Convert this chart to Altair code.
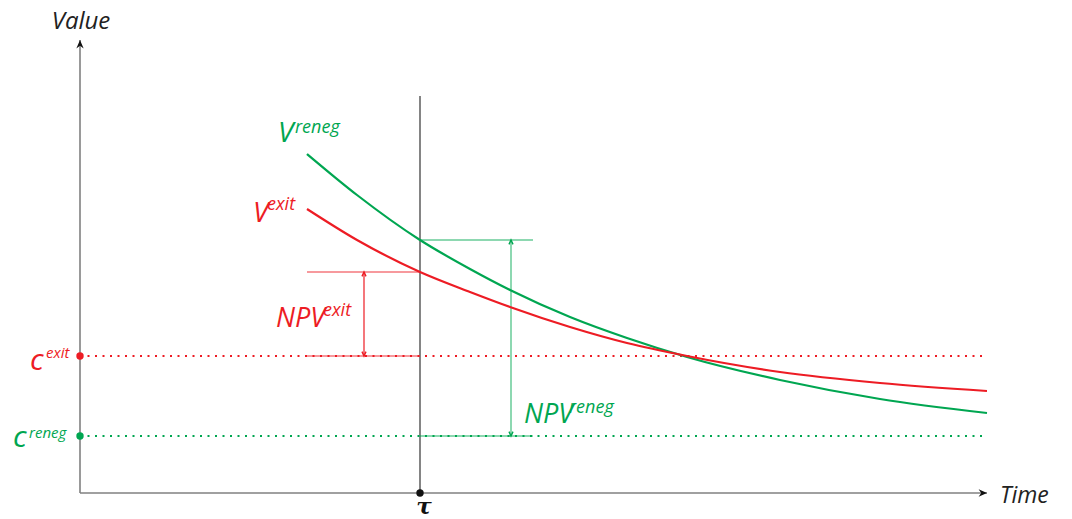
import altair as alt
import pandas as pd

# ---- data ----
t_pts = [22.7, 27.7, 34.0, 39.0, 43.0, 49.0, 54.7, 60.7, 70.0, 80.0, 90.7]
v_reneg = [33.9, 29.8, 25.3, 22.4, 20.3, 17.6, 15.5, 13.6, 11.3, 9.4, 8.0]
v_exit = [28.4, 25.3, 22.1, 20.1, 18.6, 16.6, 15.0, 13.7, 12.1, 11.0, 10.2]

tau = 34.0
tau_top = 39.7
c_exit = 13.7
c_reneg = 5.7
t_end = 90.7
v_top = 45.3
npv_exit_from = 22.7
npv_exit_arrow = 28.4
npv_reneg_to = 45.3
npv_reneg_arrow = 43.1
v_exit_tau = 22.1
v_reneg_tau = 25.3

RED = "#ED1C24"
GREEN = "#00A651"
FONT = "Open Sans"

xs = alt.Scale(domain=[-7.2, 98.4], nice=False, zero=False)
ys = alt.Scale(domain=[-2.6, 48.5], nice=False, zero=False)


def X(f="x"):
    return alt.X(f"{f}:Q", scale=xs, axis=None)


def Y(f="y"):
    return alt.Y(f"{f}:Q", scale=ys, axis=None)


def rule(df, **kw):
    return alt.Chart(pd.DataFrame(df)).mark_rule(**kw).encode(
        x=X(), x2="x2:Q", y=Y(), y2="y2:Q")


layers = []

# axes
layers.append(rule({"x": [0, 0], "x2": [t_end, 0], "y": [0, 0], "y2": [0, v_top]},
                   color="#808080", strokeWidth=1.6))
# tau line
layers.append(rule({"x": [tau], "x2": [tau], "y": [0], "y2": [tau_top]},
                   color="#333333", strokeWidth=1.2))
# dotted levels
layers.append(rule({"x": [0], "x2": [t_end], "y": [c_exit], "y2": [c_exit]},
                   color=RED, strokeWidth=2.2, strokeDash=[2, 5.5]))
layers.append(rule({"x": [0], "x2": [t_end], "y": [c_reneg], "y2": [c_reneg]},
                   color=GREEN, strokeWidth=2.2, strokeDash=[2, 5.5]))

# NPV exit bracket
layers.append(rule({"x": [npv_exit_from, npv_exit_from], "x2": [tau, tau],
                    "y": [v_exit_tau, c_exit], "y2": [v_exit_tau, c_exit]},
                   color=RED, strokeWidth=1.5, opacity=0.6))
layers.append(rule({"x": [npv_exit_arrow], "x2": [npv_exit_arrow],
                    "y": [c_exit + 0.1], "y2": [v_exit_tau - 0.1]},
                   color=RED, strokeWidth=1.2))
# NPV reneg bracket
layers.append(rule({"x": [tau, tau], "x2": [npv_reneg_to, npv_reneg_to],
                    "y": [v_reneg_tau, c_reneg], "y2": [v_reneg_tau, c_reneg]},
                   color=GREEN, strokeWidth=1.5, opacity=0.6))
layers.append(rule({"x": [npv_reneg_arrow], "x2": [npv_reneg_arrow],
                    "y": [c_reneg + 0.1], "y2": [v_reneg_tau - 0.1]},
                   color=GREEN, strokeWidth=1.5, opacity=0.6))

# curves
curve_df = pd.DataFrame({"x": t_pts, "y": v_reneg})
layers.append(alt.Chart(curve_df).mark_line(color=GREEN, strokeWidth=2.2, interpolate="monotone")
              .encode(x=X(), y=Y()))
curve_df2 = pd.DataFrame({"x": t_pts, "y": v_exit})
layers.append(alt.Chart(curve_df2).mark_line(color=RED, strokeWidth=2.2, interpolate="monotone")
              .encode(x=X(), y=Y()))

# dots
dots = pd.DataFrame({"x": [0, 0, tau], "y": [c_exit, c_reneg, 0],
                     "c": [RED, GREEN, "#111111"]})
layers.append(alt.Chart(dots).mark_point(filled=True, size=55, opacity=1, shape="circle")
              .encode(x=X(), y=Y(), color=alt.Color("c:N", scale=None)))

# axis arrowheads
UP = "M0,0L-0.7,1.6L0,1.1L0.7,1.6Z"
RIGHT = "M0,0L-1.6,-0.7L-1.1,0L-1.6,0.7Z"
layers.append(alt.Chart(pd.DataFrame({"x": [0], "y": [v_top]})).mark_point(
    shape=UP, filled=True, size=110, color="#111111", opacity=1).encode(x=X(), y=Y()))
layers.append(alt.Chart(pd.DataFrame({"x": [t_end], "y": [0]})).mark_point(
    shape=RIGHT, filled=True, size=110, color="#111111", opacity=1).encode(x=X(), y=Y()))

# bracket arrowheads (open)
OPEN_UP = "M-0.6,1.3L0,0L0.6,1.3"
OPEN_DOWN = "M-0.6,-1.3L0,0L0.6,-1.3"
ah_up = pd.DataFrame({"x": [npv_exit_arrow, npv_reneg_arrow], "y": [v_exit_tau, v_reneg_tau],
                      "c": [RED, GREEN]})
ah_dn = pd.DataFrame({"x": [npv_exit_arrow, npv_reneg_arrow], "y": [c_exit, c_reneg],
                      "c": [RED, GREEN]})
layers.append(alt.Chart(ah_up).mark_point(shape=OPEN_UP, filled=False, size=45, strokeWidth=1.4,
                                          opacity=1)
              .encode(x=X(), y=Y(), color=alt.Color("c:N", scale=None)))
layers.append(alt.Chart(ah_dn).mark_point(shape=OPEN_DOWN, filled=False, size=45, strokeWidth=1.4,
                                          opacity=1)
              .encode(x=X(), y=Y(), color=alt.Color("c:N", scale=None)))

# labels
lab_text = ["c", "exit", "c", "reneg", "V", "reneg", "V", "exit", "NPV", "exit", "NPV", "reneg",
            "Time"]
lab_x = [-5.0, -3.4, -6.7, -5.1, 19.8, 21.5, 17.3, 18.7, 19.6, 24.3, 44.4, 48.9, 92.0]
lab_y = [12.3, 13.5, 4.6, 5.5, 35.1, 36.0, 27.1, 28.3, 16.6, 17.7, 7.0, 8.0, -1.0]
lab_c = [RED, RED, GREEN, GREEN, GREEN, GREEN, RED, RED, RED, RED, GREEN, GREEN, "#222222"]
lab_s = [30, 15, 30, 15, 28, 18, 28, 18, 27, 18, 27, 18, 23]
labels = pd.DataFrame({"t": lab_text, "x": lab_x, "y": lab_y, "c": lab_c, "s": lab_s})
layers.append(alt.Chart(labels).mark_text(align="left", baseline="alphabetic", font=FONT,
                                          fontStyle="italic")
              .encode(x=X(), y=Y(), text="t:N", color=alt.Color("c:N", scale=None),
                      size=alt.Size("s:Q", scale=None)))

layers.append(alt.Chart(pd.DataFrame({"t": ["Value"], "x": [0.1], "y": [46.4]})).mark_text(
    align="center", baseline="alphabetic", font=FONT, fontStyle="italic", fontSize=24,
    color="#222222").encode(x=X(), y=Y(), text="t:N"))
layers.append(alt.Chart(pd.DataFrame({"t": ["τ"], "x": [34.4], "y": [-2.1]})).mark_text(
    align="center", baseline="alphabetic", font="DejaVu Serif", fontStyle="italic",
    fontWeight="bold", fontSize=23, color="#111111").encode(x=X(), y=Y(), text="t:N"))

chart = alt.layer(*layers).properties(
    width=1056, height=511, autosize=alt.AutoSizeParams(type="none"), padding=0
).configure_view(stroke=None)

chart.save("out.html", embed_options={"renderer": "svg", "actions": False})
